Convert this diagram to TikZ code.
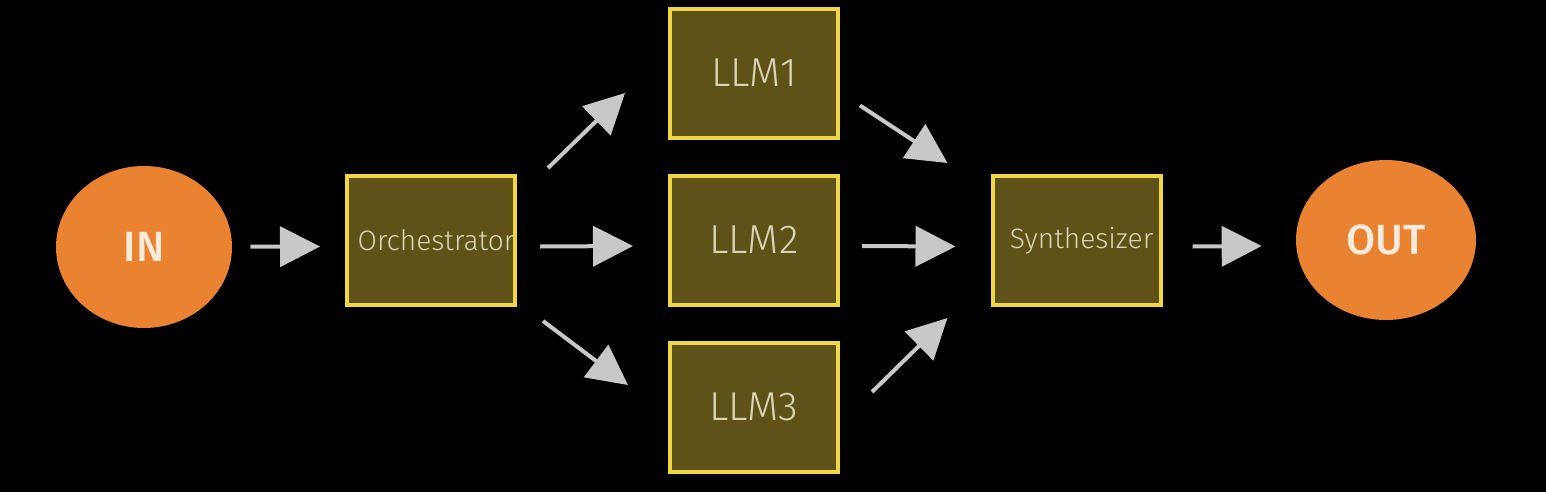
\documentclass[tikz,border=0pt]{standalone}
\usepackage{fontspec}
\setmainfont{Fira Sans}[UprightFont=* Light, BoldFont=* Medium]
\usetikzlibrary{arrows.meta,shapes.geometric}
\definecolor{boxfill}{HTML}{5F5219}
\definecolor{boxline}{HTML}{F2D744}
\definecolor{boxtext}{HTML}{DAD3B4}
\definecolor{ioorange}{HTML}{EA8331}
\definecolor{iotext}{HTML}{FBEBDB}
\definecolor{arrowgray}{HTML}{C8C8C8}
\begin{document}
\begin{tikzpicture}[
  stage/.style={draw=boxline, line width=0.08cm, fill=boxfill, text=boxtext,
    minimum width=3.36cm, minimum height=2.58cm, inner sep=0pt},
  io/.style={ellipse, fill=ioorange, text=iotext, font=\fontsize{24}{28}\selectfont\bfseries, inner sep=0pt},
  arr/.style={draw=arrowgray, line width=0.08cm, -{Triangle[length=0.8cm, width=0.8cm, fill=arrowgray]}}]
\fill[black] (0,0) rectangle (30.92,-9.84);
\useasboundingbox (0,0) rectangle (30.92,-9.84);
\node[io, minimum width=3.52cm, minimum height=3.24cm] (in) at (2.88,-4.94) {IN};
\node[stage, font=\fontsize{16}{19}\selectfont] (orch) at (8.62,-4.81) {\hspace*{0.2cm}Orchestrator};
\node[stage, font=\fontsize{23}{27}\selectfont] (llm1) at (15.08,-1.46) {LLM1};
\node[stage, font=\fontsize{23}{27}\selectfont] (llm2) at (15.08,-4.8) {LLM2};
\node[stage, font=\fontsize{23}{27}\selectfont] (llm3) at (15.08,-8.14) {LLM3};
\node[stage, font=\fontsize{16}{19}\selectfont] (synth) at (21.53,-4.81) {\hspace*{0.2cm}Synthesizer};
\node[io, minimum width=3.6cm, minimum height=3.2cm] (out) at (27.72,-4.8) {OUT};
\draw[arr, shorten <=0.36cm, shorten >=0.5cm] (in) -- ([yshift=-0.12cm]orch.west);
\draw[arr] ([shift={(0.46,-0.12)}]orch.east) -- ([shift={(-0.7,-0.12)}]llm2.west);
\draw[arr] ([shift={(0.62,0.12)}]orch.north east) -- ([shift={(-0.86,-0.4)}]llm1.west);
\draw[arr] ([shift={(0.52,-0.28)}]orch.south east) -- ([shift={(-0.8,0.44)}]llm3.west);
\draw[arr] ([shift={(0.4,0.68)}]llm1.south east) -- ([shift={(-0.86,0.22)}]synth.north west);
\draw[arr] ([shift={(0.44,-0.12)}]llm2.east) -- ([shift={(-0.7,-0.12)}]synth.west);
\draw[arr] ([shift={(0.64,0.3)}]llm3.east) -- ([shift={(-0.86,-0.22)}]synth.south west);
\draw[arr] ([shift={(0.6,-0.12)}]synth.east) -- ([shift={(-0.68,-0.12)}]out.west);
\end{tikzpicture}
\end{document}
